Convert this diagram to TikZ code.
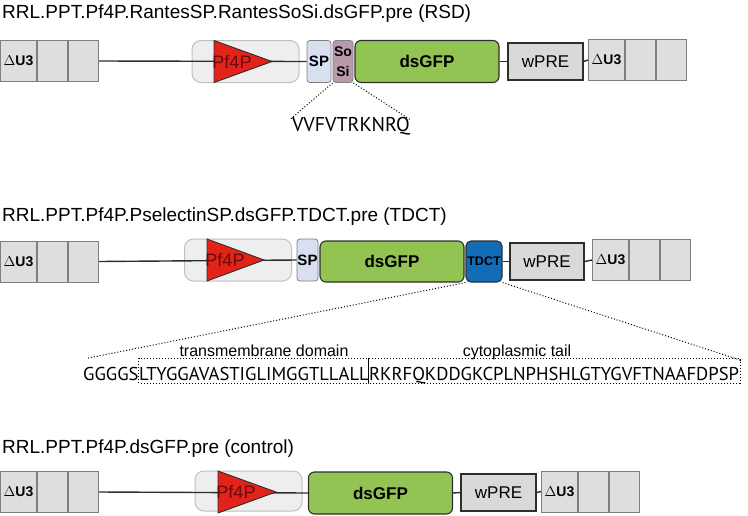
\documentclass[tikz,border=0pt]{standalone}
\usepackage{fontspec}
\setmainfont{Liberation Sans}
\newfontfamily\seqfont{PT Sans}
\usetikzlibrary{calc}

\definecolor{ltrfill}{HTML}{DFDDDF}
\definecolor{ltrdraw}{HTML}{7F7F7F}
\definecolor{wprefill}{HTML}{D9D9D9}
\definecolor{gfpfill}{HTML}{92C353}
\definecolor{pfback}{HTML}{EEEEEE}
\definecolor{pfbackdraw}{HTML}{BFBFBF}
\definecolor{pfred}{HTML}{E2231A}
\definecolor{pftext}{HTML}{6B0A0A}
\definecolor{spfill}{HTML}{D8DFF0}
\definecolor{sosifill}{HTML}{B99AAC}
\definecolor{tdctfill}{HTML}{136DB6}
\definecolor{darkline}{HTML}{2E2E2E}

\tikzset{
  cell/.style={draw=ltrdraw, fill=ltrfill, line width=1pt, minimum height=41pt, inner sep=0pt, anchor=west},
  wprebox/.style={draw=darkline, fill=wprefill, line width=1.3pt, minimum width=75pt, minimum height=37pt, inner sep=0pt, font=\fontsize{17}{19}\selectfont},
  gfpbox/.style={draw=darkline, fill=gfpfill, line width=1.1pt, rounded corners=6pt, minimum width=144pt, minimum height=42pt, inner sep=0pt, font=\fontsize{17}{19}\selectfont\bfseries},
  pfbox/.style={draw=pfbackdraw, fill=pfback, line width=1pt, rounded corners=9pt, minimum width=107pt, minimum height=42pt, inner sep=0pt},
  spbox/.style={draw=ltrdraw, fill=spfill, line width=0.8pt, rounded corners=3pt, minimum height=42pt, inner sep=0pt, font=\fontsize{15}{17}\selectfont\bfseries},
  backbone/.style={line width=1.4pt, darkline},
  zoomline/.style={line width=1pt, dotted},
  title/.style={anchor=base west, inner sep=0pt, font=\fontsize{19}{21}\selectfont},
  seq/.style={anchor=base, inner sep=0pt, font=\fontsize{18.6}{20}\selectfont\seqfont},
}

% three-cell LTR: name, left x, center y
\newcommand{\ltrblock}[3]{%
  \node[cell, minimum width=36pt, font=\fontsize{14}{16}\selectfont\bfseries] (#11) at (#2,#3) {$\Delta$U3};
  \node[cell, minimum width=30pt] (#12) at (#11.east) {};
  \node[cell, minimum width=30pt] (#13) at (#12.east) {};
}

% promoter triangle: name, left x, center y, tip x
\newcommand{\promoter}[4]{%
  \coordinate (#1a) at (#2,#3-21);
  \coordinate (#1b) at (#4,#3);
  \coordinate (#1c) at (#2,#3+21);
  \draw[fill=pfred, draw=darkline, line width=0.9pt] (#1a)--(#1b)--(#1c)--cycle;
  \node[text=pftext, font=\fontsize{18}{20}\selectfont, inner sep=0pt] (#1t) at (#2+18,#3) {Pf4P};
}

\begin{document}
\begin{tikzpicture}[x=1pt,y=-1pt]
\useasboundingbox (0,0) rectangle (748,515);

%% RSD
\node[title] (t1) at (2,18) {RRL.PPT.Pf4P.RantesSP.RantesSoSi.dsGFP.pre (RSD)};
\ltrblock{la}{0}{61}
\node[pfbox] (pf1) at (245.5,61.5) {};
\node[spbox, minimum width=24pt] (sp1) at (319,61.5) {SP};
\draw[backbone] (la3.east) -- (sp1.west);
\promoter{tri1}{214}{61.5}{272}
\node[spbox, fill=sosifill, minimum width=20pt, align=center, font=\fontsize{14}{20}\selectfont\bfseries] (sosi1) at (343,61.5) {So\\Si};
\node[gfpbox] (gfp1) at (427,61.5) {dsGFP};
\node[wprebox] (wpre1) at (545.5,61.5) {wPRE};
\ltrblock{ra}{588}{60}
\draw[backbone] (gfp1.east) -- (wpre1.west);
\draw[backbone] (wpre1.east) -- (ra1.west);

% RantesSoSi
\node[seq, font=\fontsize{20}{22}\selectfont\seqfont] (vv) at (351,131) {VVFVTRKNRQ};
\draw[zoomline] (sosi1.south west) -- ($(vv.north west)+(-2,3)$);
\draw[zoomline] (sosi1.south east) -- ($(vv.north east)+(0,3)$);

%% TDCT
\node[title] (t2) at (2,221) {RRL.PPT.Pf4P.PselectinSP.dsGFP.TDCT.pre (TDCT)};
\ltrblock{lb}{0}{261.5}
\node[pfbox] (pf2) at (238,260) {};
\node[spbox, minimum width=21pt] (sp2) at (307.5,260) {SP};
\draw[backbone] (lb3.east) -- (sp2.west);
\promoter{tri2}{207}{260}{264}
\node[gfpbox, minimum height=41pt] (gfp2) at (392,261.5) {dsGFP};
\node[gfpbox, fill=tdctfill, minimum width=36pt, minimum height=41pt, rounded corners=5pt, font=\fontsize{12.5}{14}\selectfont\bfseries] (tdct) at (484,261.5) {TDCT};
\node[wprebox, minimum width=74pt] (wpre2) at (547,261.5) {wPRE};
\ltrblock{rb}{592}{260}
\draw[backbone] (tdct.east) -- (wpre2.west);
\draw[backbone] (wpre2.east) -- (rb1.west);

% transmembrane + cytoplasmic tail
\node[seq, anchor=base west] (linker) at (83,380) {GGGGS};
\node[seq, anchor=base west] (tm) at (linker.base east) {LTYGGAVASTIGLIMGGTLLALL};
\node[seq, anchor=base west] (ct) at (tm.base east) {RKRFQKDDGKCPLNPHSHLGTYGVFTNAAFDPSP};
\coordinate (tmnw) at ($(tm.west)+(0,-15)$);
\coordinate (tmse) at ($(tm.east)+(0,10)$);
\coordinate (ctne) at ($(ct.east)+(1,-15)$);
\draw[dotted, line width=1pt] (tmnw) rectangle (tmse);
\draw[dotted, line width=1pt] (tmse|-tmnw) -| (ctne) |- (tmse);
\draw[line width=1pt] (tmse|-tmnw) -- (tmse);
\node[anchor=base, font=\fontsize{16}{18}\selectfont, inner sep=0pt] (tmlab) at (264,356) {transmembrane domain};
\node[anchor=base, font=\fontsize{16}{18}\selectfont, inner sep=0pt] (ctlab) at (517,356) {cytoplasmic tail};
\draw[zoomline] (tdct.south west) -- ($(linker.west)+(3,-15)$);
\draw[zoomline] (tdct.south east) -- (ctne);

%% control
\node[title] (t3) at (2,453) {RRL.PPT.Pf4P.dsGFP.pre (control)};
\ltrblock{lc}{0}{492}
\node[pfbox, minimum height=40pt] (pf3) at (248.5,491) {};
\node[gfpbox] (gfp3) at (380.5,493) {dsGFP};
\draw[backbone] (lc3.east) -- (gfp3.west);
\promoter{tri3}{218}{492}{276}
\node[wprebox] (wpre3) at (498.5,492.5) {wPRE};
\ltrblock{rc}{541}{491.5}
\draw[backbone] (gfp3.east) -- (wpre3.west);
\draw[backbone] (wpre3.east) -- (rc1.west);

\end{tikzpicture}
\end{document}
